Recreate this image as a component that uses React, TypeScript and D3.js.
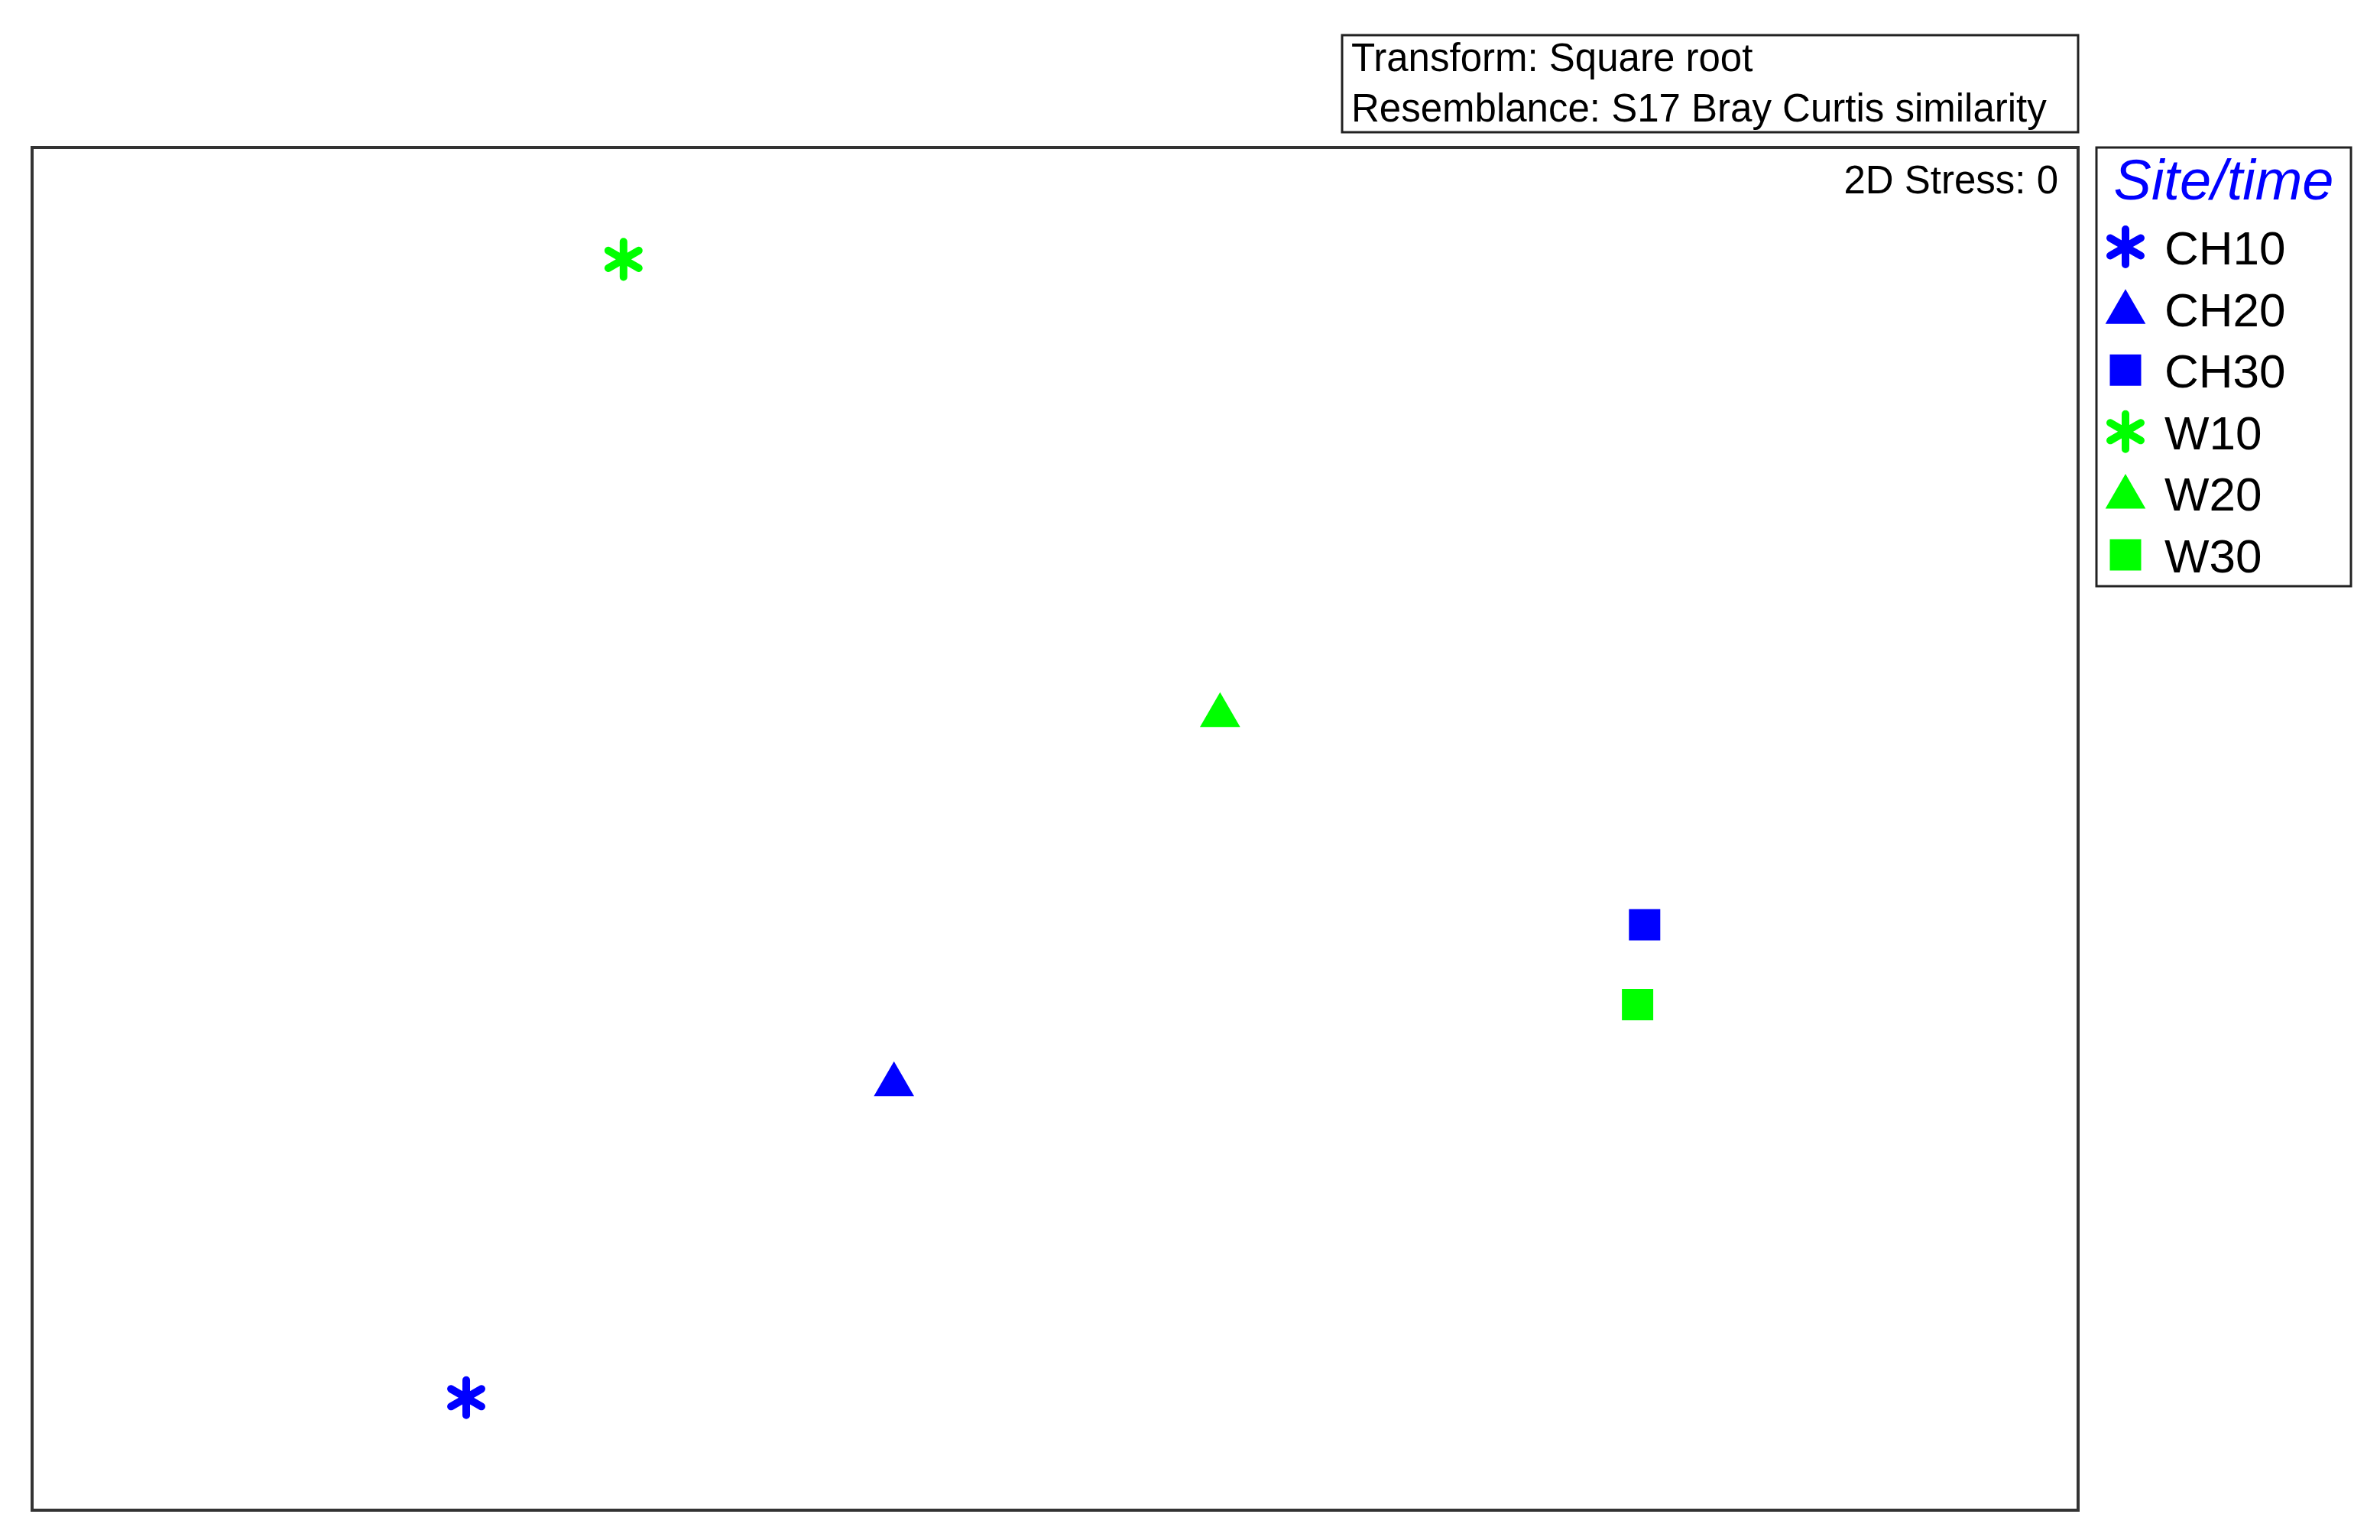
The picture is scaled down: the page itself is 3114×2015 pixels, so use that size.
import React from "react";
import * as d3 from "d3";

// nMDS ordination (2D stress 0)
const sites = ["CH10", "CH20", "CH30", "W10", "W20", "W30"];
const mdsX = [-0.921, -0.252, 0.922, -0.675, 0.258, 0.911];
const mdsY = [-0.89, -0.4, -0.15, 0.891, 0.1775, -0.275];
const siteGroup = ["CH", "CH", "CH", "W", "W", "W"];
const siteTime = [10, 20, 30, 10, 20, 30];

const infoLines = ["Transform: Square root", "Resemblance: S17 Bray Curtis similarity"];
const stressLabel = "2D Stress: 0";
const legendTitle = "Site/time";

const W = 3114;
const H = 2015;
const frame = { left: 42, top: 193, right: 2719, bottom: 1976 };
const FONT = "'Liberation Sans', Arial, sans-serif";

const color = d3.scaleOrdinal<string, string>().domain(["CH", "W"]).range(["#0000ff", "#00ff00"]);
const shape = d3
  .scaleOrdinal<number, d3.SymbolType>()
  .domain([10, 20, 30])
  .range([d3.symbolAsterisk, d3.symbolTriangle, d3.symbolSquare]);
const shapeSize: Record<number, number> = { 10: 1500, 20: 1200, 30: 1680 };

function Marker({ t, g, x, y }: { t: number; g: string; x: number; y: number }) {
  const path = d3.symbol().type(shape(t)).size(shapeSize[t])() || "";
  const c = color(g);
  if (t === 10) {
    return (
      <path
        d={path}
        transform={`translate(${x},${y})`}
        fill="none"
        stroke={c}
        strokeWidth={10}
        strokeLinecap="round"
      />
    );
  }
  return <path d={path} transform={`translate(${x},${y})`} fill={c} />;
}

export default function App() {
  const xScale = d3.scaleLinear().domain([-1.6, 1.6]).range([frame.left, frame.right]);
  const yScale = d3.scaleLinear().domain([-1.066, 1.066]).range([frame.bottom, frame.top]);

  const legend = { x: 2743, y: 193, w: 333, h: 574 };
  const rowY = d3.scaleLinear().domain([0, 1]).range([323, 323 + 80.6]);

  return (
    <svg
      width={W}
      height={H}
      style={{ position: "absolute", left: 0, top: 0, display: "block", background: "#fff" }}
      fontFamily={FONT}
    >
      {/* info box */}
      <rect x={1756} y={46} width={963} height={127} fill="#fff" stroke="#222" strokeWidth={3} />
      {infoLines.map((s, i) => (
        <text key={s} x={1768} y={93 + i * 66} fontSize={51} fill="#000">
          {s}
        </text>
      ))}

      {/* plot frame */}
      <rect
        x={frame.left}
        y={frame.top}
        width={frame.right - frame.left}
        height={frame.bottom - frame.top}
        fill="#fff"
        stroke="#333"
        strokeWidth={4}
      />
      <text x={2693} y={253} fontSize={51} textAnchor="end" fill="#000">
        {stressLabel}
      </text>

      {sites.map((s, i) => (
        <Marker key={s} t={siteTime[i]} g={siteGroup[i]} x={xScale(mdsX[i])} y={yScale(mdsY[i])} />
      ))}

      {/* legend */}
      <rect x={legend.x} y={legend.y} width={legend.w} height={legend.h} fill="#fff" stroke="#222" strokeWidth={3} />
      <text
        x={legend.x + legend.w / 2}
        y={261}
        fontSize={74}
        fontStyle="italic"
        textAnchor="middle"
        fill="#0000ff"
      >
        {legendTitle}
      </text>
      {sites.map((s, i) => (
        <g key={s}>
          <Marker t={siteTime[i]} g={siteGroup[i]} x={2781} y={rowY(i) + (siteTime[i] === 20 ? 5 : 0)} />
          <text x={2832} y={rowY(i) + 23} fontSize={62} fill="#000">
            {s}
          </text>
        </g>
      ))}
    </svg>
  );
}
